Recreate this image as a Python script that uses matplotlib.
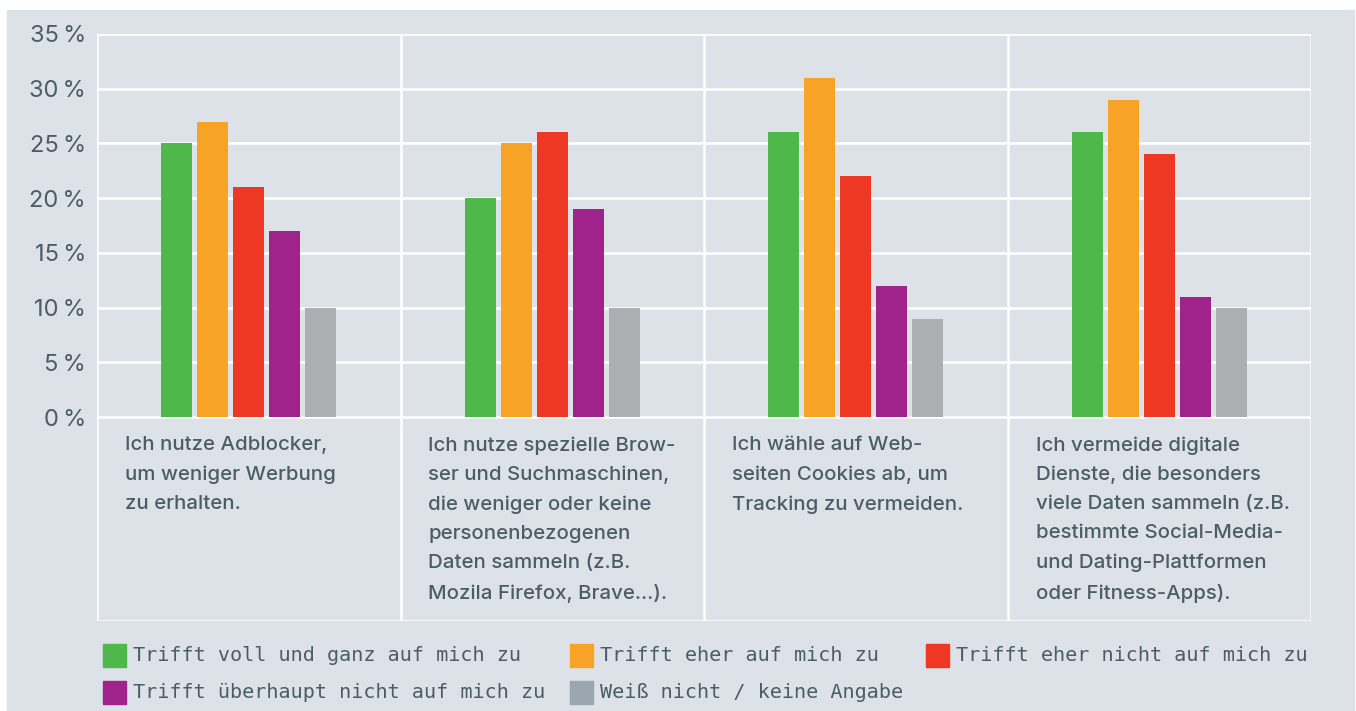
"""
Datenschutz-Verhalten: gruppiertes Balkendiagramm mit Kategorie-Texten
unter der Achse und manueller Legende.
"""
import matplotlib.pyplot as plt
import numpy as np
from matplotlib.patches import Rectangle

# data
categories = [
    "Ich nutze Adblocker,\num weniger Werbung\nzu erhalten.",
    "Ich nutze spezielle Brow-\nser und Suchmaschinen,\ndie weniger oder keine\n"
    "personenbezogenen\nDaten sammeln (z.B.\nMozila Firefox, Brave…).",
    "Ich wähle auf Web-\nseiten Cookies ab, um\nTracking zu vermeiden.",
    "Ich vermeide digitale\nDienste, die besonders\nviele Daten sammeln (z.B.\n"
    "bestimmte Social-Media-\nund Dating-Plattformen\noder Fitness-Apps).",
]
series_names = [
    "Trifft voll und ganz auf mich zu",
    "Trifft eher auf mich zu",
    "Trifft eher nicht auf mich zu",
    "Trifft überhaupt nicht auf mich zu",
    "Weiß nicht / keine Angabe",
]
voll = [25, 20, 26, 26]
eher = [27, 25, 31, 29]
eher_nicht = [21, 26, 22, 24]
gar_nicht = [17, 19, 12, 11]
weiss_nicht = [10, 10, 9, 10]
yticks = [0, 5, 10, 15, 20, 25, 30, 35]
ytick_labels = ["0\u202f%", "5\u202f%", "10\u202f%", "15\u202f%",
                "20\u202f%", "25\u202f%", "30\u202f%", "35\u202f%"]

series = [voll, eher, eher_nicht, gar_nicht, weiss_nicht]
colors = ["#4fb84a", "#f7a325", "#ee3823", "#a0228b", "#aeafb2"]
legend_colors = ["#4fb84a", "#f7a325", "#ee3823", "#a0228b", "#9ba7b0"]
bg = "#dde1e8"
txt = "#4b5d66"

W, H = 1356, 711
fig = plt.figure(figsize=(W / 100, H / 100), dpi=100, facecolor="white")
fig.patches.append(Rectangle((7 / W, 0), (1354 - 7) / W, (H - 10) / H,
                             transform=fig.transFigure, color=bg, zorder=-5))

ax = fig.add_axes([97 / W, 1 - 621 / H, (1311 - 97) / W, (621 - 34) / H])
ax.set_facecolor(bg)
ymin = -204 / (383 / 35)
ax.set_ylim(ymin, 35)
ax.set_xlim(-0.5, len(categories) - 0.5)

x = np.arange(len(categories))
width = 0.102
pitch = 0.1186
for i, (vals, c) in enumerate(zip(series, colors)):
    ax.bar(x + (i - 2) * pitch, vals, width=width, color=c, zorder=3)

# white grid: horizontal at ticks, vertical at group borders
for y in yticks:
    ax.axhline(y, color="white", lw=1.8, zorder=2)
ax.axhline(ymin, color="white", lw=1.8, zorder=2)
for b in np.arange(-0.5, len(categories), 1.0):
    ax.axvline(b, color="white", lw=1.8, zorder=2)
for s in ax.spines.values():
    s.set_visible(False)

ax.set_yticks(yticks)
ax.set_yticklabels(ytick_labels, fontsize=17, color=txt, fontfamily="Inter")
ax.tick_params(axis="y", length=0, pad=8)
ax.set_xticks([])

for i, cat in enumerate(categories):
    ax.text(i - 0.5 + 28 / 303.5, -1.75, cat, fontsize=14.7, color=txt,
            fontfamily="Inter", fontweight="medium", ha="left", va="top",
            linespacing=1.78)

# legend, row by row
pos = [(103, 655.5), (570, 655.5), (926, 655.5), (103, 692.5), (570, 692.5)]
for (px, py), name, c in zip(pos, series_names, legend_colors):
    fig.patches.append(Rectangle((px / W, 1 - (py + 11.5) / H), 23 / W, 23 / H,
                                 transform=fig.transFigure, color=c))
    fig.text((px + 30) / W, 1 - py / H, name, fontsize=14.5, color=txt,
             fontfamily="DejaVu Sans Mono", va="center", ha="left")

fig.savefig("out.png", dpi=100, facecolor="white")
